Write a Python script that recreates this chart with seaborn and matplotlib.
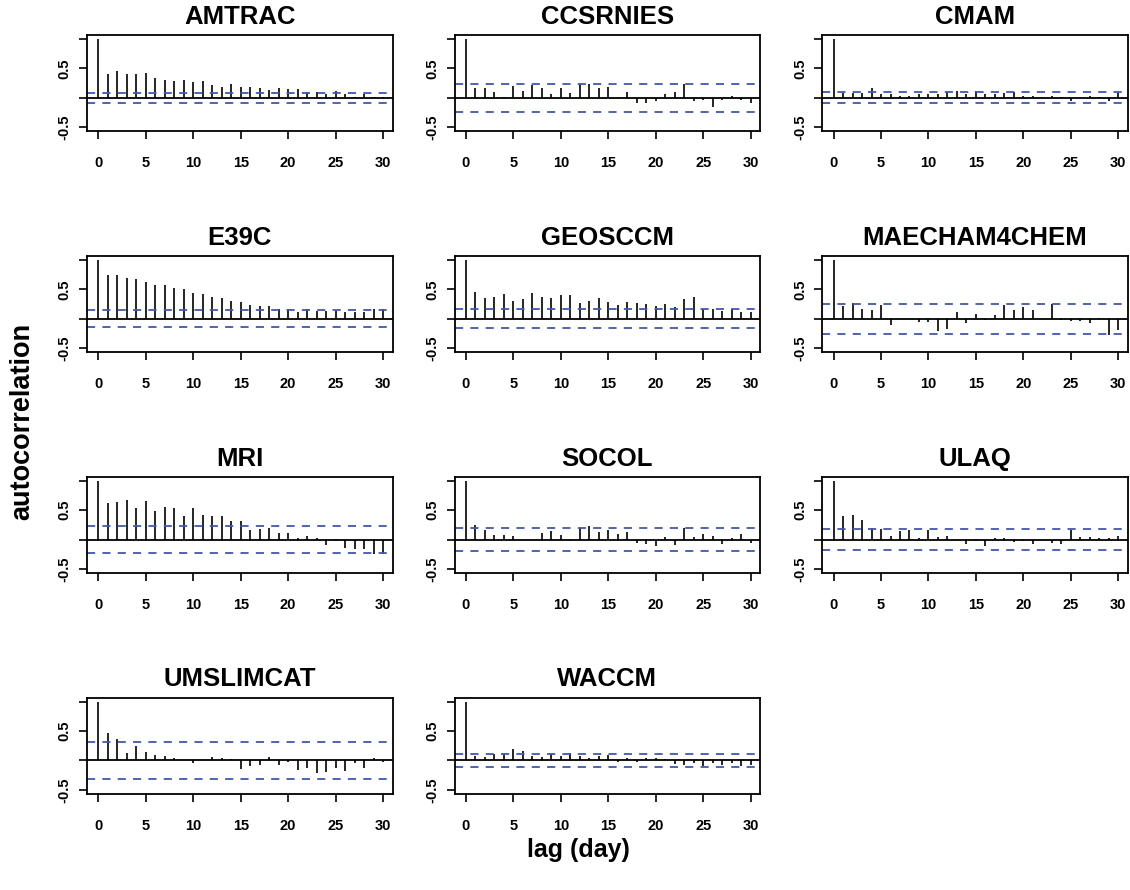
import numpy as np
import pandas as pd
import matplotlib
matplotlib.use("Agg")
import matplotlib.pyplot as plt
import seaborn as sns

lags = list(range(31))
models = ["AMTRAC", "CCSRNIES", "CMAM", "E39C", "GEOSCCM", "MAECHAM4CHEM",
          "MRI", "SOCOL", "ULAQ", "UMSLIMCAT", "WACCM"]

amtrac = [1.0, 0.40, 0.45, 0.40, 0.40, 0.42, 0.34, 0.31, 0.29, 0.31, 0.27, 0.28, 0.22, 0.19, 0.24,
          0.18, 0.19, 0.16, 0.13, 0.17, 0.15, 0.15, 0.10, 0.10, 0.07, 0.12, 0.06, 0.02, 0.06, 0.01, 0.01]
ccsrnies = [1.0, 0.17, 0.17, 0.10, 0.01, 0.21, 0.12, 0.22, 0.16, 0.07, 0.16, 0.08, 0.24, 0.24, 0.16,
            0.18, 0.02, 0.10, -0.09, -0.09, -0.06, 0.07, 0.10, 0.24, -0.06, -0.03, -0.16, -0.03, 0.04, -0.04, -0.08]
cmam = [1.0, 0.09, 0.09, 0.08, 0.17, 0.07, 0.07, 0.04, 0.03, 0.06, 0.07, 0.06, 0.10, 0.11, 0.07,
        0.12, 0.06, 0.07, 0.08, 0.10, 0.04, 0.03, 0.02, 0.04, 0.02, -0.06, 0.0, 0.04, 0.02, -0.05, 0.08]
e39c = [1.0, 0.75, 0.75, 0.69, 0.67, 0.63, 0.57, 0.57, 0.53, 0.51, 0.44, 0.42, 0.37, 0.36, 0.31,
        0.28, 0.24, 0.21, 0.22, 0.16, 0.16, 0.11, 0.16, 0.13, 0.13, 0.13, 0.12, 0.12, 0.12, 0.17, 0.17]
geosccm = [1.0, 0.45, 0.35, 0.37, 0.42, 0.31, 0.34, 0.44, 0.37, 0.36, 0.40, 0.40, 0.27, 0.31, 0.36,
           0.29, 0.23, 0.29, 0.27, 0.25, 0.21, 0.25, 0.20, 0.34, 0.37, 0.16, 0.17, 0.13, 0.17, 0.12, 0.12]
maecham = [1.0, 0.21, 0.27, 0.17, 0.15, 0.23, -0.10, -0.01, -0.01, -0.06, -0.06, -0.21, -0.17, 0.12, -0.08,
           0.08, -0.02, 0.06, 0.23, 0.15, 0.20, 0.15, -0.01, 0.25, -0.02, -0.03, -0.04, -0.08, 0.02, -0.28, -0.19]
mri = [1.0, 0.63, 0.64, 0.68, 0.53, 0.65, 0.49, 0.55, 0.53, 0.40, 0.53, 0.42, 0.40, 0.40, 0.31,
       0.31, 0.17, 0.18, 0.20, 0.12, 0.12, 0.03, 0.06, 0.02, -0.09, -0.02, -0.15, -0.16, -0.16, -0.25, -0.24]
socol = [1.0, 0.25, 0.17, 0.07, 0.07, 0.06, 0.0, 0.0, 0.12, 0.15, 0.08, -0.03, 0.19, 0.23, 0.13,
         0.16, 0.09, 0.13, -0.06, -0.07, -0.11, 0.04, -0.09, 0.20, 0.05, 0.09, 0.06, -0.08, 0.02, 0.10, -0.06]
ulaq = [1.0, 0.40, 0.42, 0.33, 0.20, 0.18, 0.06, 0.15, 0.16, 0.03, 0.16, 0.04, 0.06, -0.01, -0.07,
        -0.02, -0.11, 0.02, 0.03, -0.04, -0.03, -0.08, -0.01, -0.06, -0.07, 0.17, 0.04, 0.04, 0.03, 0.02, 0.06]
umslimcat = [1.0, 0.46, 0.37, 0.12, 0.24, 0.15, 0.10, 0.08, 0.04, 0.0, -0.04, 0.0, 0.06, 0.04, 0.02,
             -0.14, -0.09, -0.08, 0.06, -0.07, -0.03, -0.17, -0.13, -0.21, -0.20, -0.13, -0.18, -0.05, -0.12, 0.04, -0.03]
waccm = [1.0, 0.08, 0.06, 0.11, 0.11, 0.20, 0.16, 0.07, 0.06, 0.11, 0.08, 0.13, 0.08, 0.04, 0.07,
         0.10, -0.03, 0.05, -0.03, 0.04, 0.04, 0.02, -0.06, -0.07, -0.05, -0.10, -0.04, -0.08, -0.05, -0.10, -0.08]

# 95% confidence bounds (+/-) for each model
ci_bounds = [0.09, 0.235, 0.095, 0.145, 0.16, 0.255, 0.235, 0.20, 0.18, 0.31, 0.11]

series = [amtrac, ccsrnies, cmam, e39c, geosccm, maecham, mri, socol, ulaq, umslimcat, waccm]

rows = []
for m, vals, ci in zip(models, series, ci_bounds):
    for l, v in zip(lags, vals):
        rows.append({"model": m, "lag": l, "acf": v, "ci": ci})
df = pd.DataFrame(rows)

sns.set_theme(style="ticks")
plt.rcParams["font.family"] = ["Liberation Sans", "DejaVu Sans"]
plt.rcParams["font.weight"] = "bold"
plt.rcParams["text.color"] = "black"
plt.rcParams["axes.labelcolor"] = "black"
plt.rcParams["xtick.color"] = "black"
plt.rcParams["ytick.color"] = "black"
plt.rcParams["axes.titlecolor"] = "black"

BLUE = "#4257a8"

g = sns.FacetGrid(df, col="model", col_wrap=3, col_order=models,
                  sharex=False, sharey=False, despine=False,
                  height=2.0, aspect=1.5)


def acf_stems(data, **kws):
    ax = plt.gca()
    ax.vlines(data["lag"], 0, data["acf"], color="black", lw=1.2)
    ax.axhline(0, color="black", lw=1.3)
    ci = data["ci"].iloc[0]
    for s in (ci, -ci):
        ax.axhline(s, color=BLUE, lw=1.3, ls=(0, (4.5, 4)))


g.map_dataframe(acf_stems)
g.set_titles("{col_name}", fontweight="bold", size=18.5, pad=8, color="black")
g.set_axis_labels("", "")

for ax in g.axes.flat:
    ax.set_xlim(-1.2, 31.0)
    ax.set_ylim(-0.57, 1.07)
    ax.set_xticks(range(0, 31, 5))
    ax.set_xticklabels([str(t) for t in range(0, 31, 5)], fontweight="bold",
                       fontsize=10.5, color="black")
    ax.set_yticks([-0.5, 0.0, 0.5, 1.0])
    ax.set_yticklabels(["-0.5", "", "0.5", ""], rotation=90, va="center",
                       fontweight="bold", fontsize=10.5, color="black")
    ax.tick_params(axis="x", direction="out", length=6, width=1.2, colors="black", pad=12)
    ax.tick_params(axis="y", direction="out", length=6, width=1.2, colors="black", pad=5)
    for sp in ax.spines.values():
        sp.set_linewidth(1.3)
        sp.set_color("black")

fig = g.figure
fig.set_size_inches(11.3, 8.9)
fig.subplots_adjust(left=0.077, right=0.998, top=0.9607, bottom=0.1079,
                    wspace=0.203, hspace=1.29)

fig.text(0.512, 0.045, "lag (day)", ha="center", va="center",
         fontsize=18, fontweight="bold", color="black")
fig.text(0.02, 0.527, "autocorrelation", ha="center", va="center",
         rotation=90, fontsize=19.5, fontweight="bold", color="black")

fig.savefig("out.png", dpi=100)
